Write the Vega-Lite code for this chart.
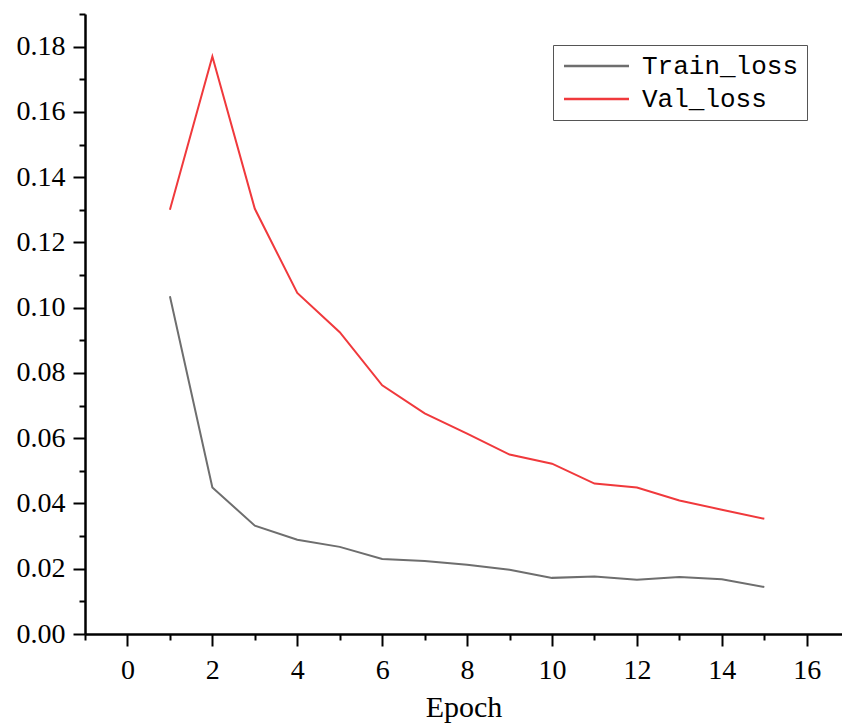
{
  "$schema": "https://vega.github.io/schema/vega-lite/v6.json",
  "autosize": "none",
  "width": 757,
  "height": 620,
  "padding": {"left": 85, "top": 14, "right": 0, "bottom": 89},
  "background": "white",
  "config": {"view": {"stroke": null}, "font": "Liberation Serif"},
  "data": {"values": [
    {"epoch": 1, "series": "Train_loss", "loss": 0.1035},
    {"epoch": 2, "series": "Train_loss", "loss": 0.0449},
    {"epoch": 3, "series": "Train_loss", "loss": 0.0332},
    {"epoch": 4, "series": "Train_loss", "loss": 0.0289},
    {"epoch": 5, "series": "Train_loss", "loss": 0.0267},
    {"epoch": 6, "series": "Train_loss", "loss": 0.0230},
    {"epoch": 7, "series": "Train_loss", "loss": 0.0224},
    {"epoch": 8, "series": "Train_loss", "loss": 0.0212},
    {"epoch": 9, "series": "Train_loss", "loss": 0.0197},
    {"epoch": 10, "series": "Train_loss", "loss": 0.0172},
    {"epoch": 11, "series": "Train_loss", "loss": 0.0176},
    {"epoch": 12, "series": "Train_loss", "loss": 0.0166},
    {"epoch": 13, "series": "Train_loss", "loss": 0.0175},
    {"epoch": 14, "series": "Train_loss", "loss": 0.0168},
    {"epoch": 15, "series": "Train_loss", "loss": 0.0144},
    {"epoch": 1, "series": "Val_loss", "loss": 0.1300},
    {"epoch": 2, "series": "Val_loss", "loss": 0.1770},
    {"epoch": 3, "series": "Val_loss", "loss": 0.1303},
    {"epoch": 4, "series": "Val_loss", "loss": 0.1045},
    {"epoch": 5, "series": "Val_loss", "loss": 0.0925},
    {"epoch": 6, "series": "Val_loss", "loss": 0.0762},
    {"epoch": 7, "series": "Val_loss", "loss": 0.0676},
    {"epoch": 8, "series": "Val_loss", "loss": 0.0614},
    {"epoch": 9, "series": "Val_loss", "loss": 0.0550},
    {"epoch": 10, "series": "Val_loss", "loss": 0.0522},
    {"epoch": 11, "series": "Val_loss", "loss": 0.0461},
    {"epoch": 12, "series": "Val_loss", "loss": 0.0449},
    {"epoch": 13, "series": "Val_loss", "loss": 0.0409},
    {"epoch": 14, "series": "Val_loss", "loss": 0.0381},
    {"epoch": 15, "series": "Val_loss", "loss": 0.0353}
  ]},
  "mark": {"type": "line", "strokeWidth": 2},
  "encoding": {
    "x": {
      "field": "epoch", "type": "quantitative",
      "scale": {"domain": [-1, 16.83], "nice": false, "zero": false},
      "axis": {
        "title": "Epoch", "titleFontSize": 30, "titleFont": "Liberation Serif", "titleFontWeight": "normal", "titleColor": "black", "titlePadding": 8,
        "values": [-1, 0, 1, 2, 3, 4, 5, 6, 7, 8, 9, 10, 11, 12, 13, 14, 15, 16],
        "labelExpr": "datum.value % 2 == 0 ? datum.label : ''",
        "labelFontSize": 28, "labelColor": "black", "labelPadding": 10,
        "tickSize": {"condition": {"test": "datum.value % 2 != 0", "value": 6}, "value": 12},
        "tickColor": "black", "tickWidth": 2, "domainColor": "black", "domainWidth": 2.5,
        "grid": false
      }
    },
    "y": {
      "field": "loss", "type": "quantitative",
      "scale": {"domain": [0, 0.19], "nice": false},
      "axis": {
        "title": null,
        "values": [0, 0.01, 0.02, 0.03, 0.04, 0.05, 0.06, 0.07, 0.08, 0.09, 0.1, 0.11, 0.12, 0.13, 0.14, 0.15, 0.16, 0.17, 0.18, 0.19],
        "format": ".2f",
        "labelExpr": "round(datum.value * 100) % 2 == 0 && datum.value < 0.185 ? datum.label : ''",
        "labelFontSize": 28, "labelColor": "black", "labelPadding": 8,
        "tickSize": {"condition": {"test": "round(datum.value * 100) % 2 != 0", "value": 6}, "value": 12},
        "tickColor": "black", "tickWidth": 2, "domainColor": "black", "domainWidth": 2.5,
        "grid": false
      }
    },
    "color": {
      "field": "series", "type": "nominal",
      "scale": {"domain": ["Train_loss", "Val_loss"], "range": ["#6e6e6e", "#f0393c"]},
      "legend": {
        "title": null, "orient": "none", "legendX": 468, "legendY": 31,
        "strokeColor": "#555555", "padding": 8,
        "symbolType": "M-1,0H5.5", "symbolSize": 400, "symbolStrokeWidth": 2.5,
        "labelFontSize": 26, "labelFont": "Liberation Mono", "labelColor": "black", "labelOffset": 55,
        "rowPadding": 7
      }
    }
  }
}
